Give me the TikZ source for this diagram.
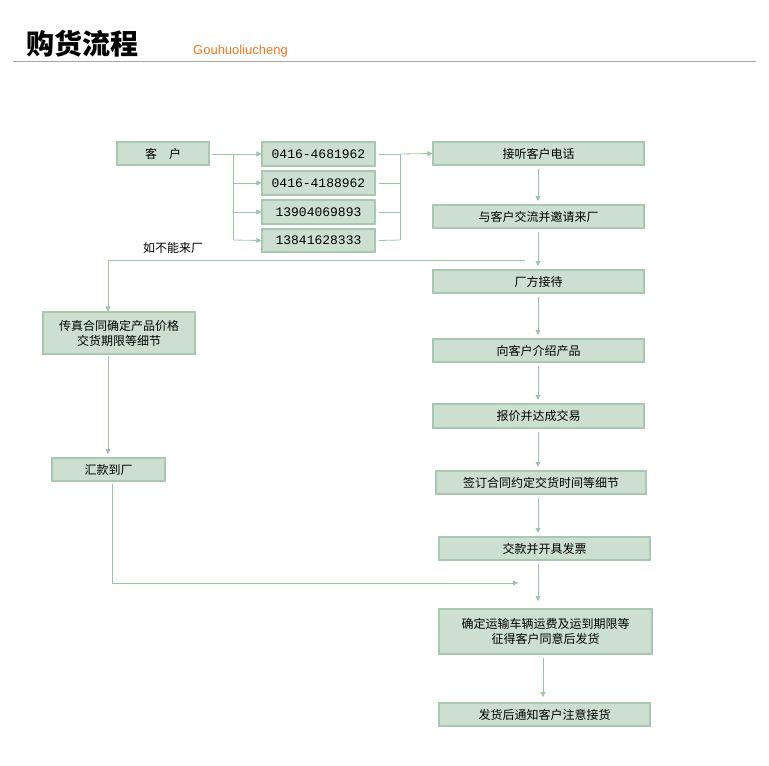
\documentclass[tikz,border=0pt]{standalone}
\usepackage{fontspec}
\setmainfont{Noto Sans CJK SC}
\newfontfamily\cjkb[BoldFont=*]{Noto Sans CJK SC}
\newfontfamily\monof{Liberation Mono}
\newfontfamily\latf{Liberation Sans}
\usetikzlibrary{arrows.meta}
\definecolor{bx}{HTML}{CCDFD0}
\definecolor{bd}{HTML}{A8C8B0}
\definecolor{ln}{HTML}{9CC4A8}
\definecolor{org}{HTML}{F07820}
\begin{document}
\begin{tikzpicture}[x=1pt,y=-1pt,
  bxs/.style={draw=bd,fill=bx,line width=1.2pt,inner sep=0pt,align=center,font=\fontsize{12}{15}\selectfont},
  con/.style={draw=ln,line width=0.8pt},
  arr/.style={con,-{Triangle[width=5pt,length=5pt]}}]
\useasboundingbox (0,0) rectangle (769,766);
\node[anchor=south west,inner sep=0pt,font=\fontsize{28}{30}\selectfont\bfseries] at (26,57) {购货流程};
\node[anchor=south west,inner sep=0pt,text=org,font=\fontsize{13}{14}\latf] at (193,57) {Gouhuoliucheng};
\draw[gray!70,line width=1pt] (13,61) -- (756,61);
\newcommand\bbox[6]{\node[bxs,minimum width=#3-#2,minimum height=#5-#4] (#1) at ({(#2+#3)/2},{(#4+#5)/2}) {#6};}
\bbox{kh}{117}{209}{142}{165}{客\hspace{1em}户}
\bbox{p1}{262}{375}{142}{166}{\monof\fontsize{13}{15}\selectfont 0416-4681962}
\bbox{p2}{262}{375}{171}{195}{\monof\fontsize{13}{15}\selectfont 0416-4188962}
\bbox{p3}{262}{375}{200}{224}{\monof\fontsize{13}{15}\selectfont 13904069893}
\bbox{p4}{262}{375}{229}{252}{\monof\fontsize{13}{15}\selectfont 13841628333}
\bbox{r1}{433}{644}{142}{165}{接听客户电话}
\bbox{r2}{433}{644}{205}{228}{与客户交流并邀请来厂}
\bbox{r3}{433}{644}{270}{293}{厂方接待}
\bbox{r4}{433}{644}{339}{362}{向客户介绍产品}
\bbox{r5}{433}{644}{404}{428}{报价并达成交易}
\bbox{r6}{436}{646}{471}{494}{签订合同约定交货时间等细节}
\bbox{r7}{439}{650}{537}{560}{交款并开具发票}
\bbox{r8}{439}{652}{609}{654}{确定运输车辆运费及运到期限等\\征得客户同意后发货}
\bbox{r9}{439}{650}{703}{726}{发货后通知客户注意接货}
\bbox{l1}{43}{195}{312}{354}{传真合同确定产品价格\\交货期限等细节}
\bbox{l2}{52}{165}{458}{481}{汇款到厂}
% customer to phones
\draw[con] (212,154) -- (233,154);
\draw[con] (233,154) -- (233,240);
\foreach \y/\n in {154/p1,183/p2,212/p3,240/p4} {
  \draw[arr] (233,\y) -- (\n.west);
  \draw[con] (\n.east) ++(3,0) -- (400,\y);
}
\draw[con] (400,154) -- (400,240);
\draw[arr] (400,154) -- (r1.west);
% right column
\draw[arr] (538,169) -- (538,201);
\draw[arr] (538,232) -- (538,266);
\draw[arr] (538,297) -- (538,335);
\draw[arr] (538,366) -- (538,400);
\draw[arr] (538,432) -- (538,467);
\draw[arr] (538,498) -- (538,533);
\draw[arr] (538,564) -- (538,601);
\draw[arr] (543,658) -- (543,697);
% left branch
\coordinate (c1) at (525,260);
\draw[arr] (c1) -- (108,260) -- (l1.north -| 108,312);
\node[font=\fontsize{12}{14}\selectfont] at (173,248) {如不能来厂};
\draw[arr] (108,356) -- (108,454);
\coordinate (c2) at (518,583);
\draw[arr] (112,484) -- (112,583) -- (c2);
\end{tikzpicture}
\end{document}
